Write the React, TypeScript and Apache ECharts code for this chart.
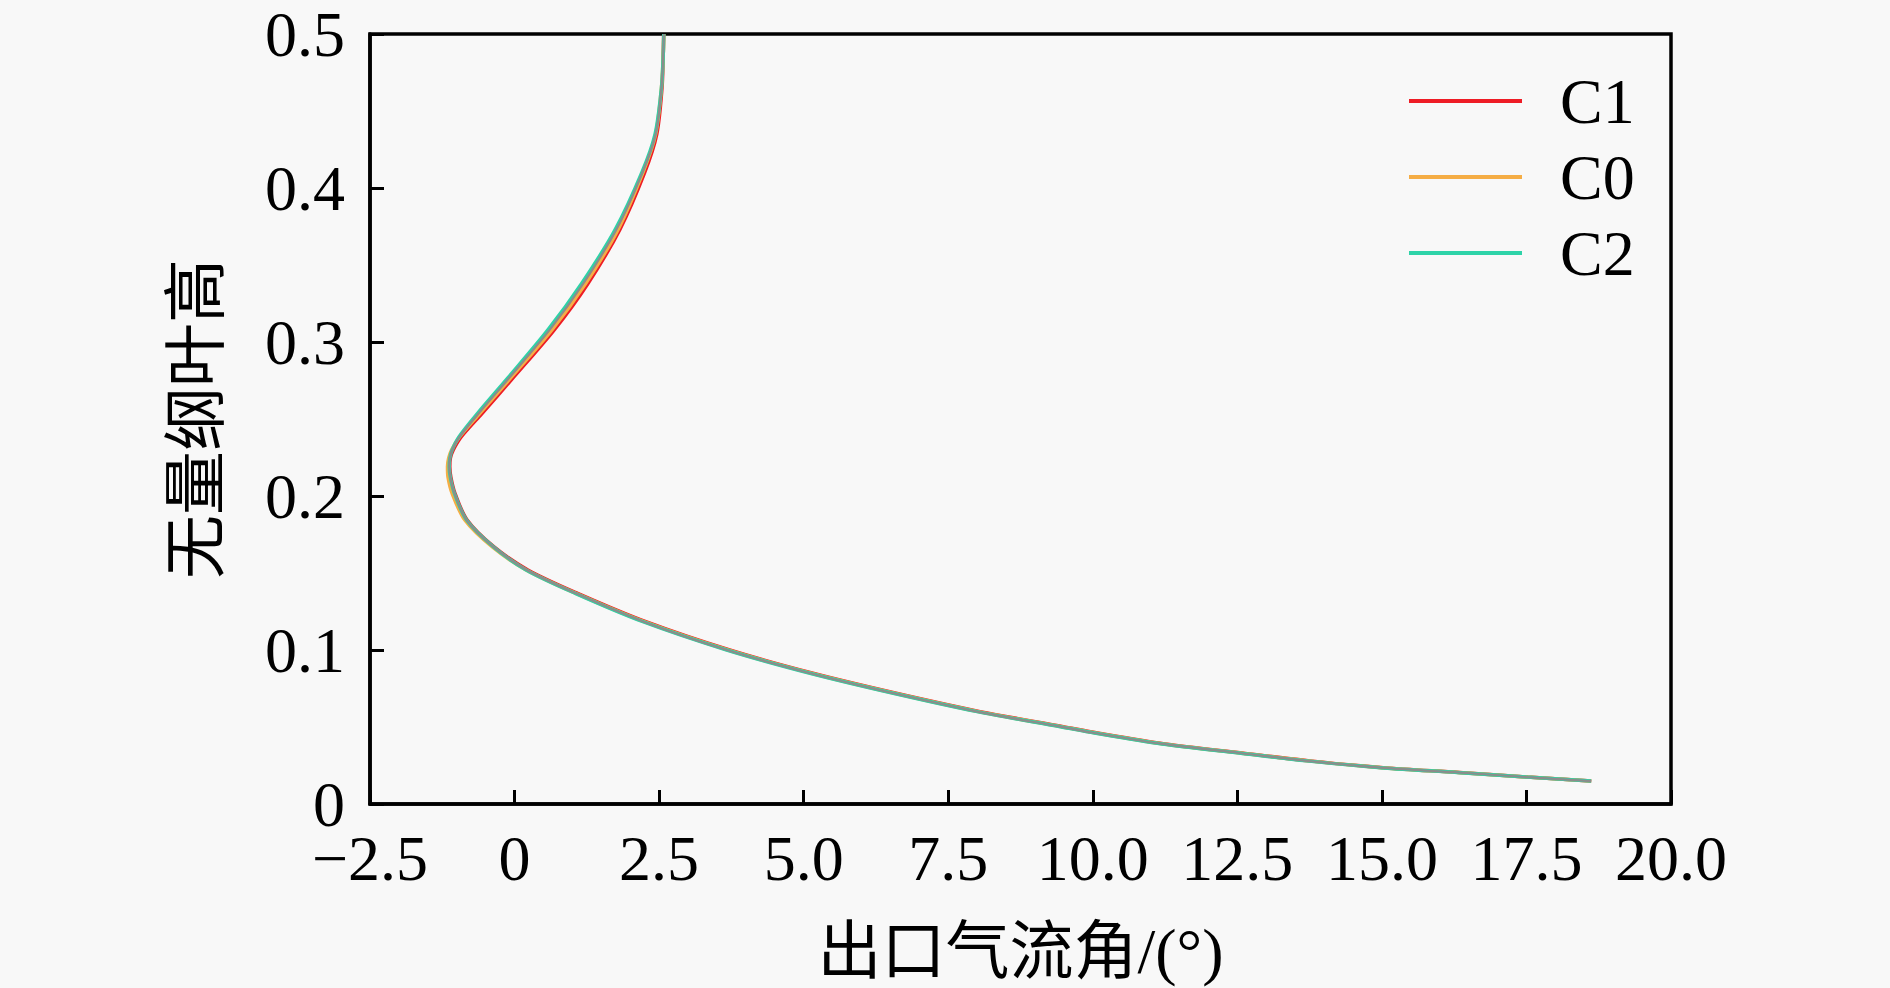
import React, { useEffect, useRef } from "react";
import * as echarts from "echarts";

// Dimensionless blade height (y) shared by all series
const heights = [
  0.0149, 0.0175, 0.0205, 0.0234, 0.028, 0.0331, 0.039, 0.0461, 0.0502, 0.06,
  0.0719, 0.0849, 0.1, 0.1184, 0.1368, 0.152, 0.1671, 0.1844, 0.2017, 0.212,
  0.219, 0.2245, 0.2299, 0.2385, 0.2537, 0.2765, 0.308, 0.338, 0.373, 0.41,
  0.435, 0.465, 0.485, 0.5,
];

// Outlet flow angle (x) for each series at the heights above
const angleC1 = [
  18.62, 17.52, 16.34, 15.07, 13.75, 12.58, 11.25, 10.08, 9.49, 8.05,
  6.6, 5.16, 3.72, 2.27, 1.09, 0.23, -0.36, -0.82, -1.03, -1.1,
  -1.12, -1.11, -1.06, -0.92, -0.56, -0.03, 0.69, 1.27, 1.82, 2.25,
  2.46, 2.55, 2.57, 2.58,
];
const angleC0 = [
  18.62, 17.51, 16.32, 15.05, 13.72, 12.55, 11.22, 10.05, 9.46, 8.02,
  6.57, 5.13, 3.69, 2.24, 1.06, 0.2, -0.39, -0.86, -1.08, -1.15,
  -1.16, -1.14, -1.09, -0.95, -0.6, -0.07, 0.65, 1.23, 1.79, 2.22,
  2.44, 2.54, 2.57, 2.58,
];
const angleC2 = [
  18.62, 17.5, 16.3, 15.03, 13.7, 12.53, 11.2, 10.03, 9.44, 8.0,
  6.55, 5.11, 3.67, 2.22, 1.05, 0.2, -0.37, -0.83, -1.04, -1.11,
  -1.13, -1.12, -1.08, -0.96, -0.64, -0.12, 0.58, 1.16, 1.74, 2.2,
  2.43, 2.54, 2.57, 2.58,
];
const angleRef = [
  18.62, 17.5, 16.3, 15.03, 13.7, 12.53, 11.2, 10.03, 9.44, 8.0,
  6.55, 5.11, 3.67, 2.23, 1.06, 0.21, -0.37, -0.83, -1.04, -1.11,
  -1.13, -1.12, -1.08, -0.95, -0.62, -0.1, 0.61, 1.19, 1.76, 2.21,
  2.44, 2.54, 2.57, 2.58,
];

const seriesNames = ["C1", "C0", "C2"];
const seriesColors = ["#ee1c25", "#f5ad45", "#2ed3a8", "#8c8c8c"];

const xTickLabels = ["\u22122.5", "0", "2.5", "5.0", "7.5", "10.0", "12.5", "15.0", "17.5", "20.0"];
const yTickLabels = ["0", "0.1", "0.2", "0.3", "0.4", "0.5"];

const FONT = "'Liberation Serif', 'Times New Roman', 'Noto Sans CJK SC', serif";

function pairs(xs: number[]) {
  return xs.map((x, i) => [x, heights[i]]);
}

export default function App() {
  const ref = useRef<HTMLDivElement>(null);
  useEffect(() => {
    if (!ref.current) return;
    const chart = echarts.init(ref.current, undefined, { renderer: "svg" });
    const lineSeries = (name: string, data: number[][], color: string, width: number) => ({
      name,
      type: "line",
      data,
      showSymbol: false,
      symbol: "none",
      smooth: 0.3,
      lineStyle: { color, width },
      itemStyle: { color },
    });
    chart.setOption({
      animation: false,
      backgroundColor: "#f8f8f8",
      grid: {
        left: 370,
        top: 34,
        right: 219,
        bottom: 184,
        show: true,
        borderColor: "#000",
        borderWidth: 3.5,
        backgroundColor: "transparent",
      },
      legend: {
        data: seriesNames.map((n) => ({ name: n, icon: "rect" })),
        orient: "vertical",
        left: 1404,
        top: 64,
        itemWidth: 113,
        itemHeight: 4,
        itemGap: 12,
        textStyle: {
          fontFamily: FONT,
          fontSize: 64,
          lineHeight: 64,
          color: "#000",
          padding: [0, 0, 0, 33],
        },
      },
      xAxis: {
        type: "value",
        min: -2.5,
        max: 20,
        interval: 2.5,
        name: "出口气流角/(°)",
        nameLocation: "middle",
        nameGap: 115,
        nameTextStyle: { fontFamily: FONT, fontSize: 64, color: "#000" },
        axisLine: { show: true, onZero: false, lineStyle: { color: "#000", width: 3.5 } },
        axisTick: { show: true, inside: true, length: 14, lineStyle: { color: "#000", width: 3 } },
        splitLine: { show: false },
        axisLabel: {
          fontFamily: FONT,
          fontSize: 64,
          color: "#000",
          margin: 22,
          formatter: (v: number) => {
            const i = Math.round((v + 2.5) / 2.5);
            return xTickLabels[i] ?? "";
          },
        },
      },
      yAxis: {
        type: "value",
        min: 0,
        max: 0.5,
        interval: 0.1,
        name: "无量纲叶高",
        nameLocation: "middle",
        nameGap: 142,
        nameRotate: 90,
        nameTextStyle: { fontFamily: FONT, fontSize: 64, color: "#000" },
        axisLine: { show: true, onZero: false, lineStyle: { color: "#000", width: 3.5 } },
        axisTick: { show: true, inside: true, length: 14, lineStyle: { color: "#000", width: 3 } },
        splitLine: { show: false },
        axisLabel: {
          fontFamily: FONT,
          fontSize: 64,
          color: "#000",
          margin: 25,
          formatter: (v: number) => {
            const i = Math.round(v * 10);
            return yTickLabels[i] ?? "";
          },
        },
      },
      series: [
        lineSeries("C1", pairs(angleC1), seriesColors[0], 3.5),
        lineSeries("C0", pairs(angleC0), seriesColors[1], 3.5),
        lineSeries("C2", pairs(angleC2), seriesColors[2], 3.5),
        lineSeries("ref", pairs(angleRef), seriesColors[3], 2.2),
      ],
    });
    return () => chart.dispose();
  }, []);
  return (
    <div
      ref={ref}
      style={{ position: "absolute", left: 0, top: 0, width: 1890, height: 988 }}
    />
  );
}
